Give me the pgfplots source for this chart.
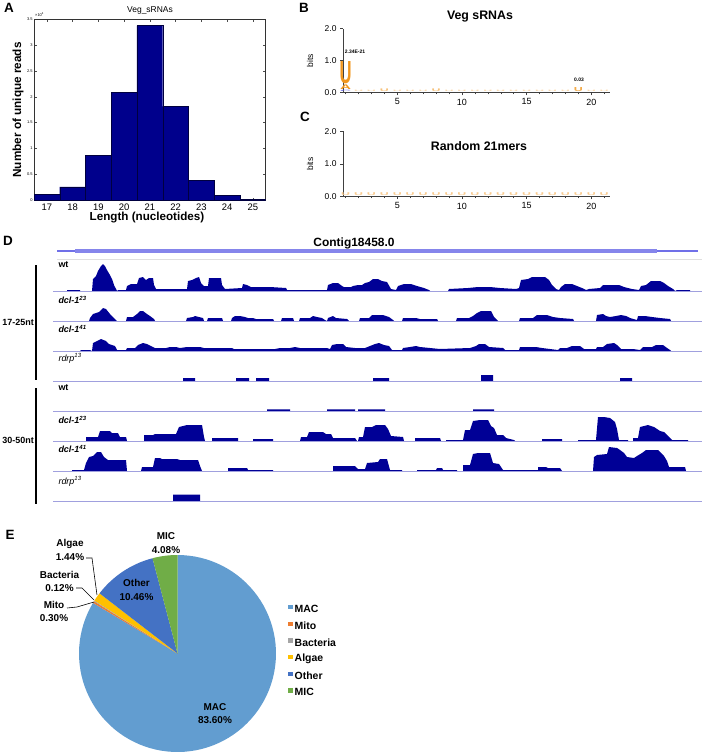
\documentclass[border=0pt]{standalone}
\usepackage{fontspec}
\setmainfont{Liberation Sans}
\usepackage{graphicx}
\usepackage{pgfplots}
\pgfplotsset{compat=1.18}

\definecolor{navy}{RGB}{0,0,140}
\definecolor{trk}{RGB}{0,0,150}
\definecolor{base}{RGB}{160,160,222}
\definecolor{gene}{RGB}{112,112,232}
\definecolor{logoor}{RGB}{240,150,30}
\definecolor{cMAC}{RGB}{98,157,208}
\definecolor{cMito}{RGB}{237,125,49}
\definecolor{cBac}{RGB}{165,165,165}
\definecolor{cAlg}{RGB}{255,192,0}
\definecolor{cOth}{RGB}{68,114,196}
\definecolor{cMIC}{RGB}{112,173,71}

\newcommand{\fs}[1]{\fontsize{#1}{#1}\selectfont}

\pgfplotsset{
  /pgf/number format/assume math mode=true,
  track/.style={scale only axis, width=649bp, height=30bp, xmin=53, xmax=702,
    ymin=0, ymax=30, hide axis, clip=false, anchor=south west},
  logo/.style={scale only axis, anchor=south west, width=267bp,
    xmin=0.8, xmax=21.45, ymin=0, ymax=2,
    axis x line=bottom, axis y line=left,
    axis line style={-, black!75, line width=0.5bp},
    xtick={5,10,15,20}, minor xtick={1,...,21},
    ytick={0,1,2}, yticklabels={0.0,1.0,2.0},
    tick align=outside, major tick length=3bp, minor tick length=2bp,
    tick style={black!75, line width=0.4bp},
    yticklabel style={font=\fs{8.5}}, xticklabel style={font=\fs{9}},
    clip=false},
  small letters/.style 2 args={draw=none,
    nodes near coords={\resizebox{9bp}{#1}{\fs{3}\bfseries U}},
    every node near coord/.append style={anchor=south, inner sep=0pt, text=#2}},
}

% pie slice: start percent, size percent, colour
\newcommand{\slice}[3]{%
  \pgfmathsetmacro\sa{90-3.6*#1}%
  \pgfmathsetmacro\sb{90-3.6*(#1+#2)}%
  \addplot[fill=#3, draw=none, domain=\sa:\sb, samples=90, variable=\t]
    ({cos(\t)}, {sin(\t)}) -- (axis cs:0,0) -- cycle;}

\begin{document}
\begin{tikzpicture}
\path[use as bounding box] (0,0) rectangle (702bp,-754bp);

% panel letters
\foreach \l/\x/\y in {A/9/8, B/304/8, C/305/117, D/8/241, E/10/535}
  \node[font=\fs{13.5}\bfseries] at (\x bp,-\y bp) {\l};

% ---------- A ----------
\begin{axis}[at={(34bp,-200.3bp)}, anchor=south west, scale only axis,
  width=231.7bp, height=181.3bp,
  xmin=16.5, xmax=25.5, ymin=0, ymax=3.5,
  xtick={17,...,25}, ytick={0,0.5,1,1.5,2,2.5,3,3.5},
  yticklabels={0,0.5,1,1.5,2,2.5,3,3.5},
  tick align=inside, major tick length=2.5bp,
  axis line style={black!80, line width=0.5bp},
  tick style={black!70, line width=0.4bp},
  xticklabel style={font=\fs{9.5}},
  yticklabel style={font=\fs{4}, inner sep=1.2bp}]
\addplot[ybar, bar width=1, fill=navy, draw=black!55!navy, line width=0.4bp]
  coordinates {(17,0.116)(18,0.257)(19,0.862)(20,2.085)(21,3.372)
               (22,1.815)(23,0.386)(24,0.09)(25,0.02)};
\end{axis}
\node[font=\fs{8.5}] at (150bp,-10bp) {Veg\_sRNAs};
\node[font=\fs{4}, anchor=west, inner sep=0] at (35bp,-14.5bp) {×10\textsuperscript{4}};
\node[font=\fs{11.7}\bfseries] at (147bp,-218bp) {Length (nucleotides)};
\node[font=\fs{11.8}\bfseries, rotate=90] at (18bp,-110bp) {Number of unique reads};

% ---------- B ----------
\begin{axis}[logo, at={(343bp,-92.3bp)}, height=63.6bp]
\addplot[small letters={1.3bp}{logoor!40}] coordinates {
  (2,0.01)(3,0.01)(5,0.01)(6,0.01)(7,0.01)(9,0.01)(10,0.01)(11,0.01)(12,0.01)
  (13,0.01)(14,0.01)(15,0.01)(16,0.01)(17,0.01)(18,0.01)(20,0.01)(21,0.01)};
\addplot[small letters={2.6bp}{logoor!60}] coordinates {(4,0.01)(8,0.02)};
\addplot[small letters={4bp}{logoor!80}] coordinates {(19,0.01)};
\addplot[draw=none] coordinates {(1,0.01)}
  node[anchor=south, inner sep=0, text=gene] {\resizebox{11bp}{1.3bp}{\fs{2}\bfseries C}};
\addplot[draw=none] coordinates {(1,0.08)}
  node[anchor=south, inner sep=0, text=logoor] {\resizebox{11bp}{4.6bp}{\fs{4}\bfseries A}};
\addplot[draw=none] coordinates {(1,0.245)}
  node[anchor=south, inner sep=0, text=logoor] {\resizebox{12bp}{22bp}{\fs{6}\bfseries U}};
\end{axis}
\node[font=\fs{8.5}, rotate=90] at (310bp,-60.5bp) {bits};
\node[font=\fs{12.4}\bfseries] at (480bp,-17bp) {Veg sRNAs};
\node[font=\fs{5}\bfseries] at (355bp,-52bp) {2.34E-21};
\node[font=\fs{5}\bfseries] at (579bp,-80bp) {0.03};

% ---------- C ----------
\begin{axis}[logo, at={(343bp,-196.3bp)}, height=65bp]
\addplot[small letters={2.8bp}{logoor!50}] coordinates {
  (1,0.02)(2,0.02)(3,0.02)(4,0.02)(5,0.02)(6,0.02)(7,0.02)(8,0.02)(9,0.02)
  (10,0.02)(11,0.02)(12,0.02)(13,0.02)(14,0.02)(15,0.02)(16,0.02)(17,0.02)
  (18,0.02)(19,0.02)(20,0.02)(21,0.02)};
\end{axis}
\node[font=\fs{8.5}, rotate=90] at (310bp,-164bp) {bits};
\node[font=\fs{12.4}\bfseries] at (479bp,-146bp) {Random 21mers};

% ---------- D ----------
\node[font=\fs{12}\bfseries] at (354bp,-243bp) {Contig18458.0};

% wt 17-25
\begin{axis}[track, at={(53bp,-291bp)}]
\addplot[gray!25, line width=1bp] coordinates {(57,32)(702,32)};
\addplot[gene, line width=1.8bp] coordinates {(57,40)(698,40)};
\addplot[gene!85, line width=4.3bp] coordinates {(75,40)(657,40)};
\addplot[fill=trk, draw=none] coordinates {
(53,0)(67,0)(67,1)(80,1)(80,0)(92,0)(93,12)(96,15)(98,20)(101,25)(103,27)(105,25)
(107,21)(110,16)(112,12)(114,6)(116,2)(117,0)(118,1)(126,1)(127,5)(131,7)(137,7)
(139,13)(143,14)(146,11)(149,13)(153,13)(154,6)(156,2)(187,2)(188,10)(192,11)
(196,13)(199,14)(201,8)(204,5)(208,5)(209,13)(221,13)(222,6)(225,2)(242,3)(243,7)
(247,6)(251,4)(270,4)(286,3)(287,1)(327,1)(328,6)(333,8)(338,8)(342,5)(344,4)
(351,4)(353,5)(358,6)(362,6)(365,8)(369,9)(373,12)(378,12)(382,10)(387,9)(391,2)
(396,1)(398,5)(404,7)(411,7)(417,5)(424,3)(429,1)(430,0)(448,0)(449,2)(468,3)
(478,4)(490,4)(500,3)(516,2)(519,3)(521,11)(528,12)(532,14)(545,14)(549,11)
(552,6)(556,2)(559,1)(561,4)(565,7)(572,7)(577,5)(582,3)(586,1)(589,2)(600,3)
(603,6)(619,6)(624,4)(632,2)(639,1)(641,5)(646,6)(651,10)(660,10)(664,8)(668,5)
(673,2)(675,0)(677,1)(690,1)(690,0)(702,0)} \closedcycle;
\addplot[base, line width=0.9bp] coordinates {(53,0)(702,0)};
\end{axis}

% dcl-1^23 17-25
\begin{axis}[track, at={(53bp,-321bp)}]
\addplot[fill=trk, draw=none] coordinates {
(53,0)(89,0)(90,3)(93,7)(99,9)(103,13)(106,12)(110,7)(114,3)(117,0)(126,0)(127,4)
(133,4)(137,7)(140,10)(143,10)(147,7)(150,5)(154,2)(155,0)(186,0)(187,3)(193,4)
(195,5)(199,4)(203,3)(204,0)(207,0)(208,3)(222,3)(223,0)(231,0)(232,3)(235,5)
(240,5)(245,4)(248,3)(253,3)(256,2)(273,2)(274,0)(281,0)(282,3)(293,3)(294,0)
(299,0)(300,3)(310,3)(313,5)(317,4)(322,3)(325,1)(327,0)(328,3)(333,5)(336,3)
(347,2)(349,0)(359,0)(360,3)(369,3)(372,6)(383,6)(389,4)(393,1)(394,0)(402,0)
(403,3)(416,3)(420,2)(437,2)(438,0)(456,0)(457,3)(469,3)(473,5)(477,8)(481,10)
(491,10)(494,4)(497,1)(498,0)(519,0)(520,3)(533,3)(537,6)(547,6)(553,4)(560,3)
(573,2)(574,0)(596,0)(597,6)(603,7)(606,5)(610,4)(616,5)(621,6)(626,5)(630,3)
(637,1)(638,5)(645,5)(652,4)(660,3)(670,2)(671,0)(702,0)} \closedcycle;
\addplot[base, line width=0.9bp] coordinates {(53,0)(702,0)};
\end{axis}

% dcl-1^41 17-25
\begin{axis}[track, at={(53bp,-351bp)}]
\addplot[fill=trk, draw=none] coordinates {
(53,0)(80,0)(81,1)(90,1)(92,0)(93,8)(97,10)(101,12)(106,10)(109,7)(115,5)(117,1)
(126,1)(127,3)(135,3)(138,6)(143,8)(147,7)(151,5)(155,3)(166,3)(170,4)(176,4)
(180,3)(187,4)(200,4)(204,3)(232,3)(234,2)(275,2)(280,3)(290,3)(295,4)(300,3)
(327,3)(330,2)(332,6)(337,7)(343,7)(346,4)(355,3)(365,3)(370,5)(375,7)(379,8)
(384,6)(389,5)(392,1)(402,1)(403,3)(410,4)(416,5)(420,4)(430,3)(440,2)(470,3)
(476,5)(479,7)(485,7)(489,4)(503,3)(505,1)(519,1)(520,4)(536,4)(542,3)(550,2)
(558,1)(560,3)(567,3)(572,5)(580,5)(584,2)(596,2)(597,4)(603,4)(607,7)(614,8)
(617,6)(621,2)(633,2)(640,1)(643,4)(652,4)(656,6)(663,6)(667,3)(670,1)(671,0)
(702,0)} \closedcycle;
\addplot[base, line width=0.9bp] coordinates {(53,0)(702,0)};
\end{axis}

% rdrp^13 17-25
\begin{axis}[track, at={(53bp,-381bp)}]
\addplot[fill=trk, draw=none] coordinates {
(53,0)(183,0)(183,3)(195,3)(195,0)(236,0)(236,3)(249,3)(249,0)(256,0)(256,3)
(269,3)(269,0)(373,0)(373,3)(389,3)(389,0)(481,0)(481,6)(493,6)(493,0)(620,0)
(620,3)(632,3)(632,0)(702,0)} \closedcycle;
\addplot[base, line width=0.9bp] coordinates {(53,0)(702,0)};
\end{axis}

% wt 30-50
\begin{axis}[track, at={(53bp,-411bp)}]
\addplot[fill=trk, draw=none] coordinates {
(53,0)(267,0)(267,1.6)(290,1.6)(290,0)(327,0)(327,1.6)(355,1.6)(355,0)(358,0)
(358,1.6)(385,1.6)(385,0)(473,0)(473,1.6)(494,1.6)(494,0)(702,0)} \closedcycle;
\addplot[base, line width=0.9bp] coordinates {(53,0)(702,0)};
\end{axis}

% dcl-1^23 30-50
\begin{axis}[track, at={(53bp,-441bp)}]
\addplot[fill=trk, draw=none] coordinates {
(53,0)(86,0)(86,4)(98,4)(100,10)(110,10)(112,8)(118,8)(120,4)(126,4)(127,0)
(144,0)(144,6)(153,6)(155,7)(176,7)(179,14)(187,16)(202,16)(204,4)(205,0)
(212,0)(212,3)(238,3)(238,0)(253,0)(253,2)(273,2)(273,0)(300,0)(301,4)(307,4)
(309,9)(323,9)(326,7)(331,7)(333,3)(355,3)(357,0)(358,0)(359,4)(363,4)(365,14)
(372,14)(376,16)(385,16)(388,12)(391,5)(403,4)(404,0)(415,0)(415,3)(440,3)
(441,0)(446,0)(446,1)(463,1)(465,11)(470,11)(473,20)(480,21)(488,21)(491,15)
(494,13)(497,6)(503,6)(506,3)(514,1)(515,0)(542,0)(542,2)(562,2)(562,0)(578,0)
(578,1)(596,1)(598,24)(604,24)(610,23)(615,19)(617,12)(619,1)(628,1)(628,0)
(633,0)(633,3)(638,3)(640,14)(644,15)(648,16)(654,14)(660,10)(664,9)(668,5)
(672,1)(688,1)(688,0)(702,0)} \closedcycle;
\addplot[base, line width=0.9bp] coordinates {(53,0)(702,0)};
\end{axis}

% dcl-1^41 30-50
\begin{axis}[track, at={(53bp,-471bp)}]
\addplot[fill=trk, draw=none] coordinates {
(53,0)(72,0)(72,1)(84,1)(86,8)(89,14)(93,15)(97,19)(101,19)(104,14)(108,11)
(126,11)(127,0)(141,0)(142,4)(153,4)(155,13)(160,13)(162,12)(177,12)(180,11)
(198,11)(200,5)(202,0)(228,0)(228,3)(247,3)(248,1)(273,1)(273,0)(333,0)(333,5)
(355,5)(358,2)(365,2)(367,8)(378,9)(380,12)(387,12)(390,1)(402,1)(402,0)(417,0)
(417,1)(436,1)(437,3)(442,3)(443,1)(457,1)(457,0)(463,0)(463,6)(470,6)(473,17)
(478,18)(490,18)(493,8)(499,7)(503,1)(515,1)(538,1)(538,4)(546,4)(548,3)(560,3)
(562,0)(593,0)(594,14)(597,16)(607,17)(609,24)(617,23)(620,21)(624,18)(627,14)
(634,13)(637,15)(642,18)(646,21)(658,21)(661,18)(664,15)(667,10)(669,4)(685,4)
(686,0)(702,0)} \closedcycle;
\addplot[base, line width=0.9bp] coordinates {(53,0)(702,0)};
\end{axis}

% rdrp^13 30-50
\begin{axis}[track, at={(53bp,-501bp)}]
\addplot[fill=trk, draw=none] coordinates {
(53,0)(173,0)(173,6.5)(200,6.5)(200,0)(702,0)} \closedcycle;
\addplot[base, line width=0.9bp] coordinates {(53,0)(702,0)};
\end{axis}

% track labels
\node[anchor=west, font=\fs{9}\bfseries] at (55bp,-265bp) {wt};
\node[anchor=west, font=\fs{9}\bfseries\itshape] at (55bp,-300bp) {dcl-1\textsuperscript{23}};
\node[anchor=west, font=\fs{9}\bfseries\itshape] at (55bp,-329bp) {dcl-1\textsuperscript{41}};
\node[anchor=west, font=\fs{9}\itshape] at (55bp,-358bp) {rdrp\textsuperscript{13}};
\node[anchor=west, font=\fs{9}\bfseries] at (55bp,-388bp) {wt};
\node[anchor=west, font=\fs{9}\bfseries\itshape] at (55bp,-420bp) {dcl-1\textsuperscript{23}};
\node[anchor=west, font=\fs{9}\bfseries\itshape] at (55bp,-449bp) {dcl-1\textsuperscript{41}};
\node[anchor=west, font=\fs{9}\itshape] at (55bp,-481bp) {rdrp\textsuperscript{13}};
\draw[line width=1.3bp] (36bp,-265bp) -- (36bp,-380bp);
\draw[line width=1.3bp] (36bp,-388bp) -- (36bp,-504bp);
\node[anchor=east, font=\fs{9}\bfseries, inner sep=1bp] at (35bp,-322bp) {17-25nt};
\node[anchor=east, font=\fs{9}\bfseries, inner sep=1bp] at (35bp,-440bp) {30-50nt};

% ---------- E ----------
\begin{axis}[at={(79bp,-752bp)}, anchor=south west, scale only axis,
  width=197bp, height=197bp, xmin=-1, xmax=1, ymin=-1, ymax=1,
  hide axis, clip=false]
\slice{0}{83.60}{cMAC}
\slice{83.60}{0.30}{cMito}
\slice{83.90}{0.12}{cBac}
\slice{84.02}{1.44}{cAlg}
\slice{85.46}{10.46}{cOth}
\slice{95.92}{4.08}{cMIC}
\end{axis}

\begin{scope}[every node/.style={font=\fontsize{10}{13.3}\selectfont\bfseries, align=center}]
\node at (166bp,-543bp) {MIC\\4.08\%};
\node at (70bp,-550bp) {Algae\\1.44\%};
\node at (59.5bp,-581.7bp) {Bacteria\\0.12\%};
\node at (54bp,-611.7bp) {Mito\\0.30\%};
\node at (136.5bp,-590bp) {Other\\10.46\%};
\node at (215bp,-713.3bp) {MAC\\83.60\%};
\end{scope}
\draw[line width=0.6bp] (86bp,-558bp) -- (92bp,-558bp) -- (97bp,-595bp);
\draw[line width=0.6bp] (76bp,-588bp) -- (82bp,-588bp) -- (94bp,-600bp);
\draw[line width=0.6bp] (67bp,-608bp) -- (77bp,-607bp) -- (94bp,-602bp);

% legend
\begin{scope}[every node/.style={font=\fs{10.5}\bfseries, anchor=west, inner sep=0}]
\fill[cMAC]  (288.3bp,-605bp)   rectangle ++(4.4bp,-4.4bp);
\node at (294.5bp,-609bp) {MAC};
\fill[cMito] (288.3bp,-621.7bp) rectangle ++(4.4bp,-4.4bp);
\node at (294.5bp,-625.7bp) {Mito};
\fill[cBac]  (288.3bp,-638.3bp) rectangle ++(4.4bp,-4.4bp);
\node at (294.5bp,-642.3bp) {Bacteria};
\fill[cAlg]  (288.3bp,-655bp)   rectangle ++(4.4bp,-4.4bp);
\node at (294.5bp,-659bp) {Algae};
\fill[cOth]  (288.3bp,-671.7bp) rectangle ++(4.4bp,-4.4bp);
\node at (294.5bp,-675.7bp) {Other};
\fill[cMIC]  (288.3bp,-688.3bp) rectangle ++(4.4bp,-4.4bp);
\node at (294.5bp,-692.3bp) {MIC};
\end{scope}

\end{tikzpicture}
\end{document}
